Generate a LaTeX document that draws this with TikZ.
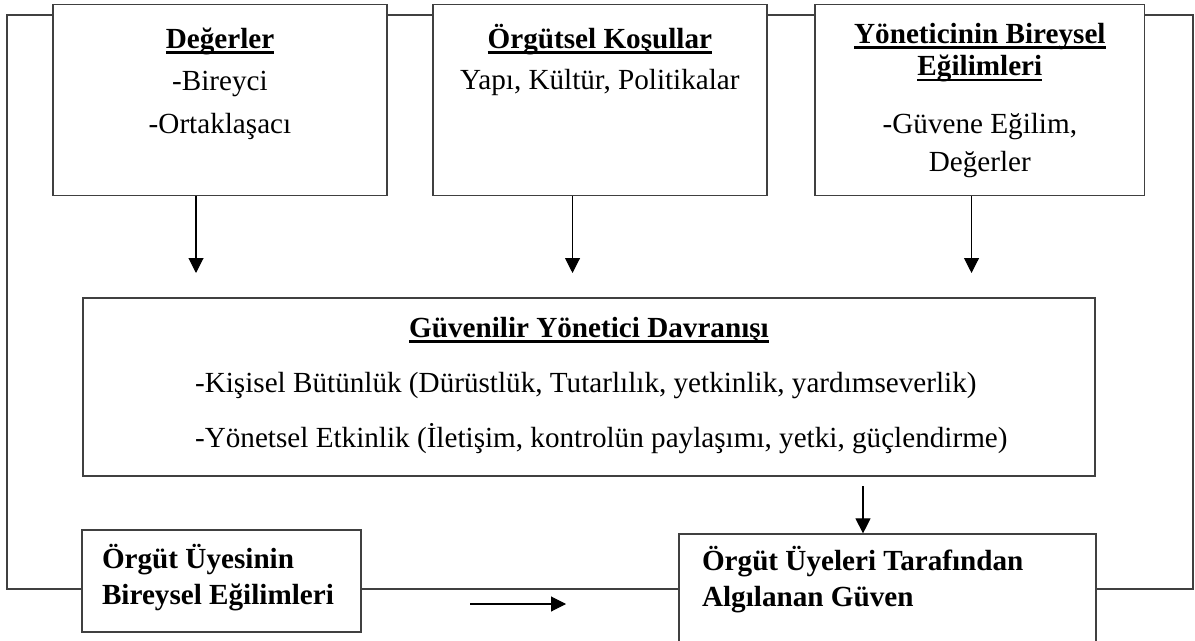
\documentclass[tikz,border=0pt]{standalone}
\usepackage{fontspec}
\setmainfont{Liberation Serif}
\usetikzlibrary{arrows.meta,positioning}

% bold title with a word-like underline
\newcommand{\ttl}[1]{\leavevmode\setbox0\hbox{\bfseries #1}\rlap{\rule[-3.2pt]{\wd0}{1.4pt}}\box0}

\begin{document}
\begin{tikzpicture}[x=0.02cm, y=-0.02cm, node distance=7.6cm,
  every node/.style={font=\fontsize{16.6}{21}\selectfont},
  block/.style={draw=black!75, fill=white, line width=0.7pt, inner sep=0pt},
  frame/.style={draw=black!75, line width=0.7pt},
  arr/.style={-{Triangle[width=0.3cm, length=0.3cm]}, line width=0.6pt}]

  \useasboundingbox (0,0) rectangle (1195,641);
  \clip (0,0) rectangle (1195,641);

  % Outer loop
  \draw[frame] (7,15) rectangle (1193,589);

  % Top row
  \node[block] (D) at (220,100) {\parbox[c][3.82cm][t]{6.68cm}{\centering
    \rule{0pt}{0.87cm}\ttl{Değerler}\\[3.4pt] -Bireyci\\[3.4pt] -Ortaklaşacı}};
  \node[block, right of=D] (O) {\parbox[c][3.82cm][t]{6.68cm}{\centering
    \rule{0pt}{0.87cm}\ttl{Örgütsel Koşullar}\\[2.5pt] Yapı, Kültür, Politikalar}};
  \node[block, right of=O] (Y) {\parbox[c][3.82cm][t]{6.6cm}{\centering
    \rule{0pt}{0.77cm}\ttl{Yöneticinin Bireysel}\\[-2.3pt] \ttl{Eğilimleri}\\[12pt]
    -Güvene Eğilim,\\[0.6pt] Değerler}};

  % Middle box
  \node[block] (M) at (589,387) {\parbox[c][3.56cm][t]{20.24cm}{%
    {\centering\rule{0pt}{0.78cm}\ttl{Güvenilir Yönetici Davranışı}\par}
    \vspace{10.7pt}
    \hspace*{2.24cm}-Kişisel Bütünlük (Dürüstlük, Tutarlılık, yetkinlik, yardımseverlik)\par
    \vspace{10.2pt}
    \hspace*{2.24cm}-Yönetsel Etkinlik (İletişim, kontrolün paylaşımı, yetki, güçlendirme)}};

  % Bottom row
  \node[block] (BL) at (221.5,581) {\parbox[c][2.04cm][t]{5.58cm}{\bfseries\leftskip=0.4cm
    \rule{0pt}{0.76cm}Örgüt Üyesinin\\ Bireysel Eğilimleri}};
  \node[block] (BR) at (887.5,594) {\parbox[c][2.4cm][t]{8.34cm}{\bfseries\leftskip=0.46cm
    \rule{0pt}{0.72cm}Örgüt Üyeleri Tarafından\\ Algılanan Güven}};

  % Arrow ends
  \coordinate (Da) at (196,273);
  \coordinate (Oa) at (572.5,273);
  \coordinate (Ya) at (971.5,273);
  \coordinate (Mb) at (863,486);
  \coordinate (Ls) at (470,604);
  \coordinate (Le) at (566,604);

  % Vertical arrows
  \draw[arr] (D.south -| Da) -- (Da);
  \draw[arr] (O.south -| Oa) -- (Oa);
  \draw[arr] (Y.south -| Ya) -- (Ya);
  \draw[arr] (Mb) -- (Mb |- BR.north);

  % Horizontal arrow
  \draw[arr] (Ls) -- (Le);

\end{tikzpicture}
\end{document}
